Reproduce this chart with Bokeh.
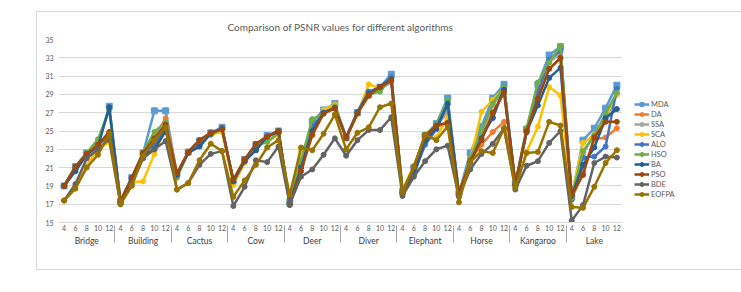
from bokeh.plotting import figure
from bokeh.models import FactorRange, Legend, LegendItem, FixedTicker, ColumnDataSource, Range1d, Spacer
from bokeh.layouts import row, column
from bokeh.embed import file_html
from bokeh.resources import INLINE

images = ["Bridge", "Building", "Cactus", "Cow", "Deer", "Diver", "Elephant", "Horse", "Kangaroo", "Lake"]
levels = ["4", "6", "8", "10", "12"]
y_ticks = [15, 17, 19, 21, 23, 25, 27, 29, 31, 33, 35]

MDA = [19.0, 21.1, 22.6, 23.5, 27.7, 17.3, 19.9, 22.6, 27.2, 27.2, 20.3, 22.7, 23.9, 24.8, 25.4,
       19.6, 21.9, 23.5, 24.5, 25.0, 17.2, 21.5, 26.0, 27.3, 28.0, 24.3, 27.0, 29.0, 29.8, 31.2,
       18.4, 21.0, 24.5, 25.8, 28.6, 18.2, 22.6, 25.5, 28.6, 30.1, 19.2, 25.2, 30.1, 33.3, 34.2,
       17.8, 24.0, 25.3, 27.5, 30.0]
DA = [19.0, 21.1, 22.5, 23.4, 24.8, 17.3, 19.9, 22.5, 24.3, 26.4, 20.3, 22.7, 24.0, 24.8, 25.2,
      19.6, 21.8, 23.5, 24.3, 24.9, 17.0, 21.0, 24.5, 27.0, 27.6, 24.3, 27.0, 28.8, 29.7, 30.6,
      18.4, 21.2, 24.2, 25.5, 25.8, 18.2, 21.8, 23.5, 24.9, 26.0, 19.2, 25.0, 28.5, 31.8, 32.9,
      17.6, 20.5, 24.1, 24.3, 25.3]
SSA = [19.0, 21.0, 22.5, 23.5, 24.7, 17.3, 19.9, 22.6, 24.5, 25.8, 20.2, 22.7, 24.0, 24.7, 25.3,
       19.6, 21.8, 23.4, 24.3, 24.8, 17.2, 21.3, 24.8, 27.0, 27.4, 24.3, 27.0, 28.9, 29.6, 30.3,
       18.4, 21.0, 24.3, 25.6, 27.0, 18.2, 22.0, 24.5, 27.8, 29.5, 19.2, 24.8, 29.0, 32.5, 33.5,
       17.7, 22.5, 24.6, 26.2, 29.0]
SCA = [17.4, 19.0, 21.2, 23.0, 23.8, 17.1, 19.4, 19.5, 22.5, 25.5, 20.0, 22.6, 23.8, 24.6, 24.9,
       19.1, 21.5, 23.4, 24.2, 24.8, 17.6, 22.9, 24.5, 27.3, 27.9, 24.2, 26.9, 30.1, 29.7, 30.8,
       18.6, 21.2, 24.0, 24.3, 26.5, 18.0, 21.8, 27.1, 28.4, 29.7, 19.0, 22.7, 25.5, 29.8, 28.9,
       17.9, 23.7, 24.6, 26.6, 29.0]
ALO = [19.0, 21.0, 22.6, 23.5, 24.5, 17.2, 19.8, 22.5, 23.5, 25.3, 20.2, 22.7, 23.4, 24.8, 25.3,
       19.5, 21.7, 22.9, 24.4, 25.0, 17.1, 21.3, 25.5, 27.0, 27.6, 24.3, 27.1, 29.3, 29.8, 30.9,
       18.2, 20.3, 23.5, 25.2, 27.9, 18.0, 21.5, 24.6, 26.4, 29.8, 19.1, 25.0, 29.3, 32.8, 33.8,
       17.5, 22.1, 22.2, 23.3, 29.6]
HSO = [19.0, 21.1, 22.6, 24.1, 27.3, 17.3, 19.9, 22.7, 24.9, 26.0, 19.9, 22.7, 24.0, 24.6, 25.2,
       19.5, 21.8, 23.4, 23.8, 24.7, 17.2, 21.8, 26.3, 26.9, 27.7, 24.3, 27.0, 29.0, 29.3, 30.8,
       18.5, 21.0, 24.6, 25.7, 28.3, 18.1, 22.0, 25.0, 28.0, 29.8, 19.2, 25.3, 30.3, 32.5, 34.3,
       17.7, 22.8, 24.5, 26.9, 29.2]
BA = [19.0, 20.6, 22.4, 23.3, 27.6, 17.2, 19.8, 22.4, 23.0, 25.0, 20.2, 22.6, 23.3, 24.7, 25.3,
      19.5, 21.7, 22.9, 24.4, 24.9, 17.1, 21.0, 25.0, 27.0, 27.5, 24.3, 27.0, 29.1, 29.8, 30.7,
      18.2, 20.2, 23.9, 25.3, 28.0, 18.1, 21.6, 24.2, 26.5, 29.5, 19.1, 24.9, 27.8, 30.8, 31.9,
      17.9, 21.3, 23.2, 26.4, 27.4]
PSO = [19.0, 21.1, 22.5, 23.5, 24.9, 17.4, 19.9, 22.6, 24.2, 25.7, 20.4, 22.7, 24.0, 24.8, 25.2,
       19.7, 21.9, 23.6, 24.4, 25.0, 16.9, 20.6, 24.6, 26.9, 27.5, 24.2, 26.9, 28.9, 29.8, 30.5,
       18.3, 21.0, 24.4, 25.6, 25.9, 18.2, 21.7, 24.0, 27.0, 29.2, 19.2, 25.0, 28.5, 31.8, 33.0,
       18.0, 20.2, 24.3, 26.0, 26.0]
BDE = [17.4, 19.2, 22.0, 23.0, 24.1, 17.0, 19.2, 22.0, 23.0, 23.9, 18.6, 19.3, 21.3, 22.5, 22.8,
       16.8, 18.9, 21.8, 21.6, 23.3, 17.0, 20.0, 20.8, 22.4, 24.2, 22.3, 24.0, 25.1, 25.1, 26.5,
       17.9, 20.0, 21.7, 23.0, 23.4, 17.8, 20.8, 22.5, 23.6, 25.3, 18.6, 21.2, 21.7, 23.7, 25.0,
       15.2, 16.9, 21.5, 22.2, 22.1]
EOFPA = [17.4, 18.7, 21.0, 22.4, 24.7, 17.0, 19.0, 22.3, 24.0, 25.4, 18.6, 19.3, 21.8, 23.6, 22.8,
         17.8, 19.6, 21.3, 23.2, 24.0, 18.0, 23.2, 22.9, 24.7, 26.8, 23.0, 24.8, 25.4, 27.6, 28.0,
         18.3, 21.1, 24.6, 24.0, 25.5, 17.2, 21.6, 22.8, 22.6, 25.3, 18.8, 22.6, 22.7, 26.0, 25.6,
         16.7, 16.6, 18.9, 21.5, 22.9]

series_names = ["MDA", "DA", "SSA", "SCA", "ALO", "HSO", "BA", "PSO", "BDE", "EOFPA"]
series_values = [MDA, DA, SSA, SCA, ALO, HSO, BA, PSO, BDE, EOFPA]
colors = ["#5B9BD5", "#ED7D31", "#A5A5A5", "#FFC000", "#4472C4", "#70AD47",
          "#255E91", "#9E480E", "#636363", "#997300"]

FONT = "Lato"
factors = [(img, lv) for img in images for lv in levels]

p = figure(
    x_range=FactorRange(*factors, factor_padding=0, group_padding=0, range_padding=0),
    y_range=Range1d(15, 35),
    frame_width=562, frame_height=181,
    min_border_left=21, min_border_right=53, min_border_top=27, min_border_bottom=49,
    output_backend="svg", toolbar_location=None,
    title="Comparison of PSNR values for different algorithms",
)
p.styles = {"border": "1px solid #d9d9d9"}
p.background_fill_color = "white"
p.border_fill_color = "white"
p.outline_line_color = None

p.title.align = "center"
p.title.text_font = FONT
p.title.text_font_size = "10px"
p.title.text_font_style = "normal"
p.title.text_color = "#595959"
p.title.standoff = 13

p.yaxis.ticker = FixedTicker(ticks=y_ticks)
p.yaxis.axis_line_color = None
p.yaxis.major_tick_line_color = None
p.yaxis.minor_tick_line_color = None
p.yaxis.major_tick_out = 0
p.yaxis.major_tick_in = 0
p.yaxis.major_label_text_font = FONT
p.yaxis.major_label_text_font_size = "7px"
p.yaxis.major_label_text_color = "#595959"
p.yaxis.major_label_standoff = 5
p.ygrid.ticker = FixedTicker(ticks=y_ticks)
p.ygrid.grid_line_color = "#d9d9d9"
p.xgrid.grid_line_color = None

p.xaxis.axis_line_color = "#d9d9d9"
p.xaxis.major_tick_line_color = None
p.xaxis.minor_tick_line_color = None
p.xaxis.major_tick_out = 0
p.xaxis.major_tick_in = 0
p.xaxis.major_label_text_font = FONT
p.xaxis.major_label_text_font_size = "7px"
p.xaxis.major_label_text_color = "#595959"
p.xaxis.major_label_standoff = 2
p.xaxis.group_text_font = FONT
p.xaxis.group_text_font_size = "8.5px"
p.xaxis.group_text_font_style = "normal"
p.xaxis.group_text_color = "#404040"
p.xaxis.separator_line_color = "#a6a6a6"
p.xaxis.separator_line_width = 1

items = []
for name, vals, col in zip(series_names, series_values, colors):
    src = ColumnDataSource(dict(x=factors, y=vals))
    ln = p.line("x", "y", source=src, line_color=col, line_width=2.5)
    if name == "MDA":
        mk = p.scatter("x", "y", source=src, marker="square", size=6, fill_color=col, line_color=col)
    else:
        mk = p.scatter("x", "y", source=src, marker="circle", size=5, fill_color=col, line_color=col)
    items.append(LegendItem(label=name, renderers=[ln, mk]))

legend = Legend(items=items, location=(12, 23))
legend.padding = 0
legend.margin = 0
legend.spacing = 0
legend.glyph_width = 15
legend.glyph_height = 10
legend.label_height = 10
legend.label_standoff = 2
legend.label_text_font = FONT
legend.label_text_font_size = "7.5px"
legend.label_text_color = "#595959"
legend.background_fill_alpha = 0
legend.border_line_color = None
p.add_layout(legend, "right")

layout = row(Spacer(width=36), column(Spacer(height=11), p))
open("out.html", "w").write(file_html(layout, INLINE))
